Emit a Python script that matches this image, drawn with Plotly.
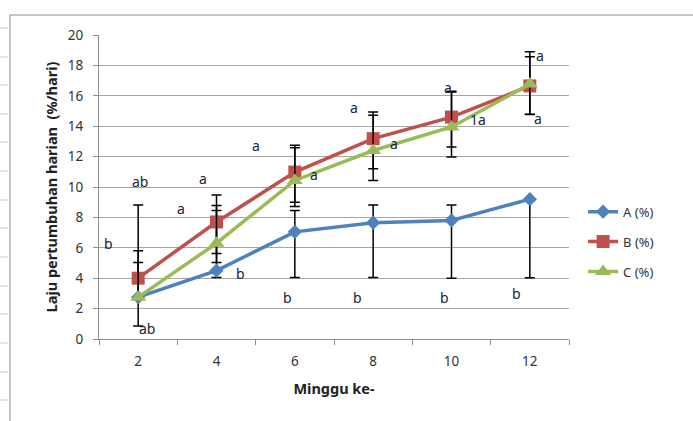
import plotly.graph_objects as go

weeks = ["2", "4", "6", "8", "10", "12"]
series_names = ["A (%)", "B (%)", "C (%)"]
a_vals = [2.75, 4.5, 7.05, 7.65, 7.8, 9.2]
b_vals = [4.0, 7.7, 10.98, 13.18, 14.6, 16.65]
c_vals = [2.75, 6.3, 10.43, 12.4, 13.95, 16.77]

a_err_plus = [3.06, 3.95, 1.4, 1.17, 1.02, 0.0]
a_err_minus = [1.89, 0.45, 3.0, 3.6, 3.8, 5.17]
b_err_plus = [4.82, 1.78, 1.76, 1.76, 1.7, 2.25]
b_err_minus = [0.0, 2.07, 2.27, 1.98, 1.97, 1.87]
c_err_plus = [2.29, 2.48, 2.15, 2.32, 2.3, 1.8]
c_err_minus = [0.0, 1.26, 1.43, 1.97, 1.98, 2.0]

# letter labels: (category index offset, y value, text)
letter_x = [0.02, -0.38, 0.11, 0.83, 0.55, 1.30, 1.51, 1.90, 2.25, 2.75, 2.80, 3.27, 3.96, 4.34, 3.91, 5.13, 5.10, 4.83]
letter_y = [10.36, 6.27, 0.66, 10.56, 8.58, 4.29, 12.74, 2.7, 10.8, 15.25, 2.7, 12.87, 16.57, 14.45, 2.7, 18.68, 14.52, 2.97]
letter_t = ["ab", "b", "ab", "a", "a", "b", "a", "b", "a", "a", "b", "a", "a", "1a", "b", "a", "a", "b"]

y_ticks = [0, 2, 4, 6, 8, 10, 12, 14, 16, 18, 20]

colors = ["#4F81BD", "#C0504D", "#9BBB59"]
symbols = ["diamond", "square", "triangle-up"]
msizes = [11, 13, 14]

font_family = "Noto Sans, Open Sans, sans-serif"

fig = go.Figure()
vals = [a_vals, b_vals, c_vals]
eplus = [a_err_plus, b_err_plus, c_err_plus]
eminus = [a_err_minus, b_err_minus, c_err_minus]
for i in range(3):
    fig.add_trace(go.Scatter(
        x=weeks, y=vals[i], name=series_names[i], mode="lines+markers",
        legendgroup=series_names[i],
        line=dict(color=colors[i], width=3.5),
        marker=dict(symbol=symbols[i], size=msizes[i], color=colors[i]),
        error_y=dict(type="data", symmetric=False, array=eplus[i], arrayminus=eminus[i],
                     color="black", thickness=1.5, width=5),
    ))

for xv, yv, t in zip(letter_x, letter_y, letter_t):
    fig.add_annotation(x=xv, y=yv, text=t, showarrow=False, xref="x", yref="y",
                       font=dict(size=14, color="#222233", family=font_family))

# outer chart border (left and top)
L, R, T, B = 99, 569, 35, 339
def px_x(p):
    return (p - L) / (R - L)
def px_y(p):
    return (B - p) / (B - T)
fig.add_shape(type="line", xref="paper", yref="paper", x0=px_x(10), x1=px_x(10), y0=px_y(15), y1=px_y(421),
              line=dict(color="#8c8c8c", width=1))
fig.add_shape(type="line", xref="paper", yref="paper", x0=px_x(10), x1=px_x(693), y0=px_y(15), y1=px_y(15),
              line=dict(color="#8c8c8c", width=1))
for ry in [28, 57, 85, 114, 142, 171, 200, 228, 257, 286, 314, 343, 372, 400]:
    fig.add_shape(type="line", xref="paper", yref="paper", x0=px_x(0), x1=px_x(8), y0=px_y(ry), y1=px_y(ry),
                  line=dict(color="#c8c8c8", width=1))

fig.update_layout(
    width=693, height=421,
    margin=dict(l=L, r=693 - R, t=T, b=421 - B),
    paper_bgcolor="white", plot_bgcolor="white",
    font=dict(family=font_family, size=12, color="#333333"),
    showlegend=True,
    legend=dict(x=1.03, y=0.32, xanchor="left", yanchor="middle",
                font=dict(size=13, color="#333333"), tracegroupgap=10, itemwidth=30,
                bgcolor="rgba(0,0,0,0)"),
    xaxis=dict(
        type="category", range=[-0.5, 5.5], tickson="boundaries",
        showline=True, linecolor="#8c8c8c", linewidth=1,
        ticks="outside", ticklen=5, tickcolor="#8c8c8c",
        showgrid=False, zeroline=False,
        tickfont=dict(size=13.5), ticklabelstandoff=10,
        title=dict(text="<b>Minggu ke-</b>", font=dict(size=14.5, color="#222222"), standoff=14),
    ),
    yaxis=dict(
        range=[0, 20], tickvals=y_ticks,
        showline=True, linecolor="#8c8c8c", linewidth=1,
        ticks="outside", ticklen=5, tickcolor="#8c8c8c",
        showgrid=True, gridcolor="#a6a6a6", gridwidth=1, zeroline=False,
        tickfont=dict(size=13.5), ticklabelstandoff=7,
        title=dict(text="<b>Laju pertumbuhan harian  (%/hari)</b>", font=dict(size=14.5, color="#222222"), standoff=6),
    ),
)

fig.write_html("out.html", config={"displayModeBar": False},
               post_script="document.body.style.margin='0';")
